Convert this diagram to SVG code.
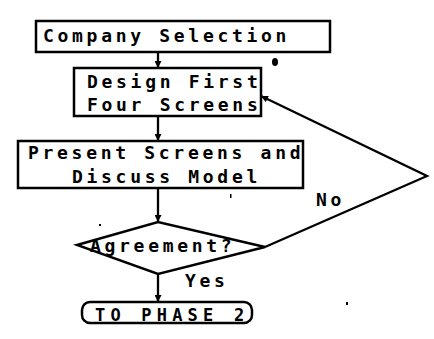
<svg xmlns="http://www.w3.org/2000/svg" width="434" height="339" viewBox="0 0 434 339">
  <defs>
    <marker id="arrow" viewBox="0 0 10 10" refX="10" refY="5" markerWidth="7" markerHeight="7" markerUnits="userSpaceOnUse" orient="auto">
      <path d="M0,0 L10,5 L0,10 Z" fill="#000"/>
    </marker>
    <style>
      .box { fill: #fff; stroke: #000; stroke-width: 2.5; }
      .link { fill: none; stroke: #000; stroke-width: 2.3; marker-end: url(#arrow); }
      .lbl { font-family: "DejaVu Sans Mono", "Liberation Mono", monospace; font-weight: bold; font-size: 18px; letter-spacing: 3.7px; fill: #000; }
      .wide { letter-spacing: 5.2px; font-size: 17px; }
      .speck { fill: #000; }
    </style>
  </defs>
  <rect width="434" height="339" fill="#fff"/>

  <!-- connectors -->
  <g id="connectors">
    <path class="link" d="M158,52 L158,68"/>
    <path class="link" d="M158,116 L158,141"/>
    <path class="link" d="M158,188 L158,222"/>
    <path class="link" d="M158,274 L158,302"/>
    <path class="link" d="M265,247 L427,176 L261,96"/>
    <text class="lbl" x="316" y="206">No</text>
    <text class="lbl" x="185" y="287">Yes</text>
  </g>

  <!-- nodes -->
  <g id="company-selection">
    <rect class="box" x="36" y="21" width="294" height="31"/>
    <text class="lbl" x="43" y="42">Company Selection</text>
  </g>

  <g id="design-screens">
    <rect class="box" x="74" y="68" width="187" height="48"/>
    <text class="lbl" x="87" y="88">Design First</text>
    <text class="lbl" x="87" y="111">Four Screens</text>
  </g>

  <g id="present-screens">
    <rect class="box" x="18" y="141" width="285" height="47"/>
    <text class="lbl" x="28" y="159">Present Screens and</text>
    <text class="lbl" x="72" y="183">Discuss Model</text>
  </g>

  <g id="agreement">
    <polygon class="box" points="77,245 158,222 265,247 158,274"/>
    <text class="lbl" x="90" y="252">Agreement?</text>
  </g>

  <g id="to-phase-2">
    <rect class="box" x="82" y="302" width="170" height="21" rx="8" ry="8"/>
    <text class="lbl wide" x="95" y="321">TO PHASE 2</text>
  </g>

  <!-- ink specks -->
  <ellipse class="speck" cx="275" cy="62" rx="3" ry="4"/>
  <rect class="speck" x="230" y="194" width="1.5" height="4"/>
  <rect class="speck" x="99" y="224" width="2" height="2"/>
  <rect class="speck" x="346" y="302" width="2" height="3"/>
</svg>
